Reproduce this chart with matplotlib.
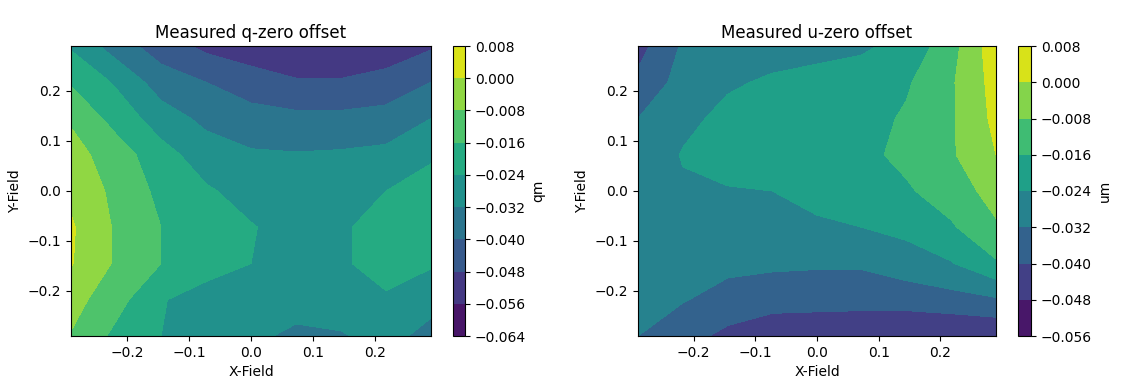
import numpy as np
import matplotlib
matplotlib.use("Agg")
import matplotlib.pyplot as plt

# field grid sample points
field_x = [-0.29, -0.2175, -0.145, -0.0725, 0.0, 0.0725, 0.145, 0.2175, 0.29]
field_y = [-0.29, -0.2175, -0.145, -0.0725, 0.0, 0.0725, 0.145, 0.2175, 0.29]

# measured q-zero offset, rows = field_y (bottom -> top), cols = field_x
q_offset = [
    [-0.0085, -0.018, -0.024, -0.029, -0.031, -0.033, -0.0325, -0.030, -0.034],
    [-0.005, -0.013, -0.0235, -0.027, -0.029, -0.030, -0.029, -0.025, -0.030],
    [0.0005, -0.009, -0.016, -0.021, -0.024, -0.027, -0.025, -0.021, -0.023],
    [0.001, -0.009, -0.016, -0.020, -0.0235, -0.027, -0.025, -0.021, -0.019],
    [-0.002, -0.010, -0.018, -0.023, -0.027, -0.029, -0.028, -0.024, -0.021],
    [-0.005, -0.012, -0.021, -0.028, -0.031, -0.0315, -0.031, -0.030, -0.025],
    [-0.009, -0.019, -0.028, -0.034, -0.037, -0.038, -0.038, -0.037, -0.032],
    [-0.017, -0.025, -0.036, -0.040, -0.044, -0.047, -0.047, -0.045, -0.040],
    [-0.025, -0.036, -0.044, -0.050, -0.053, -0.056, -0.0565, -0.053, -0.049],
]

# measured u-zero offset
u_offset = [
    [-0.032, -0.037, -0.042, -0.045, -0.046, -0.047, -0.047, -0.048, -0.0475],
    [-0.031, -0.0315, -0.035, -0.037, -0.037, -0.037, -0.037, -0.035, -0.033],
    [-0.030, -0.030, -0.030, -0.0305, -0.031, -0.031, -0.0275, -0.0245, -0.017],
    [-0.029, -0.028, -0.027, -0.026, -0.025, -0.024, -0.022, -0.017, -0.009],
    [-0.029, -0.025, -0.0245, -0.024, -0.022, -0.020, -0.017, -0.012, -0.005],
    [-0.030, -0.0235, -0.021, -0.020, -0.019, -0.018, -0.014, -0.009, 0.000],
    [-0.032, -0.026, -0.022, -0.020, -0.020, -0.019, -0.015, -0.009, 0.002],
    [-0.038, -0.029, -0.025, -0.023, -0.022, -0.021, -0.017, -0.009, 0.003],
    [-0.043, -0.031, -0.029, -0.027, -0.026, -0.025, -0.022, -0.011, 0.005],
]

q_levels = np.arange(-0.064, 0.0081, 0.008)
u_levels = np.arange(-0.056, 0.0081, 0.008)

plt.rcParams["font.size"] = 10

W, H = 1142, 384
fig = plt.figure(figsize=(W / 100, H / 100), dpi=100)


def px_axes(x0, y0, x1, y1):
    return fig.add_axes([x0 / W, 1 - y1 / H, (x1 - x0) / W, (y1 - y0) / H])


X, Y = np.meshgrid(field_x, field_y)

panels = [
    (q_offset, q_levels, "Measured q-zero offset", "qm", (71, 46, 431, 336), (453, 46, 465, 336)),
    (u_offset, u_levels, "Measured u-zero offset", "um", (638, 46, 996, 336), (1018, 46, 1031, 336)),
]

for data, levels, title, unit, abox, cbox in panels:
    ax = px_axes(*abox)
    cax = px_axes(*cbox)
    cs = ax.contourf(X, Y, np.array(data), levels=levels, cmap="viridis")
    ax.set_title(title)
    ax.set_xlabel("X-Field")
    ax.set_ylabel("Y-Field")
    ax.set_xticks([-0.2, -0.1, 0.0, 0.1, 0.2])
    ax.set_yticks([-0.2, -0.1, 0.0, 0.1, 0.2])
    cb = fig.colorbar(cs, cax=cax)
    cb.set_ticks(levels)
    cb.set_label(unit)

fig.savefig("out.png", dpi=100)
